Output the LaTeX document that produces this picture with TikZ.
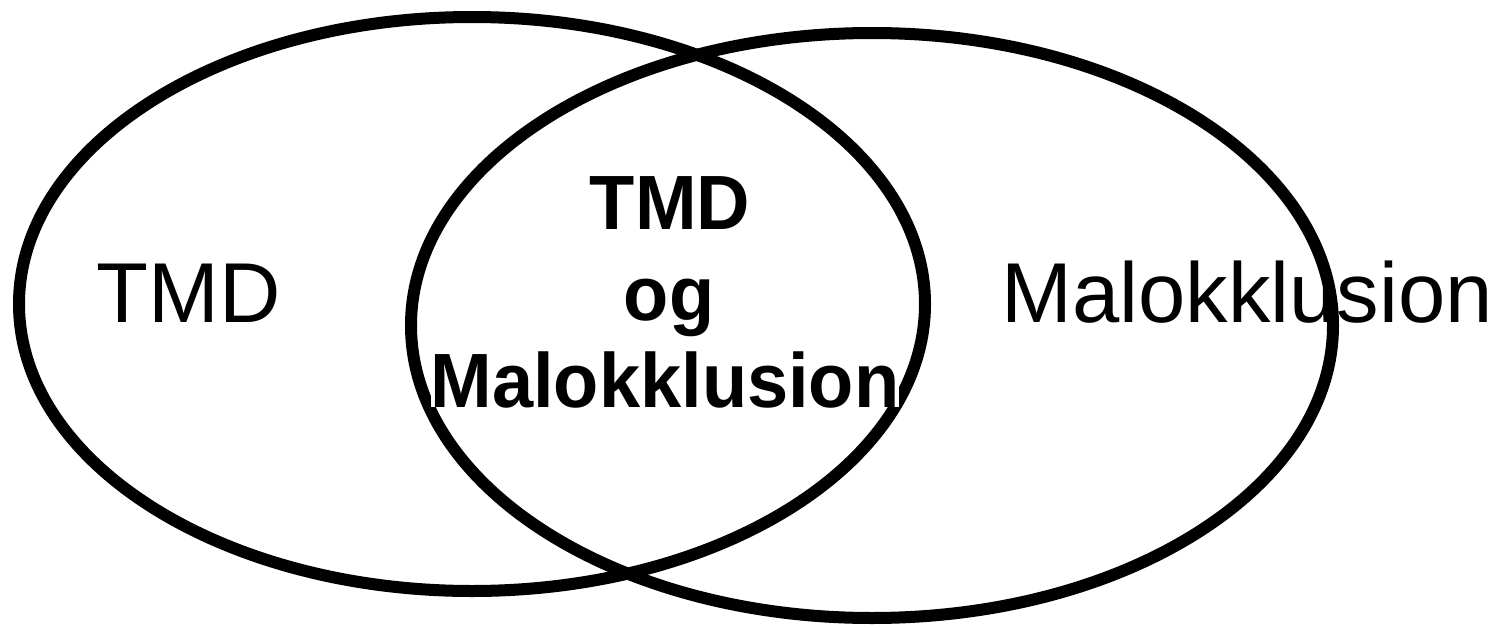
\documentclass[tikz,border=0pt]{standalone}
\usepackage{fontspec}
\setmainfont{Liberation Sans}
\begin{document}
\begin{tikzpicture}[x=1pt,y=-1pt,
  ring/.style={draw=black,line width=12pt},
  plainlabel/.style={inner sep=0pt,anchor=base,font=\fontsize{85}{90}\selectfont},
  boldlabel/.style={inner sep=0pt,anchor=base,font=\fontsize{74}{80}\selectfont\bfseries}]
\useasboundingbox (0,0) rectangle (1505,627);
\fill[white] (0,0) rectangle (1505,627);
\draw[ring] (472,304) ellipse [x radius=453pt, y radius=287pt];
\draw[ring] (872,325.5) ellipse [x radius=461pt, y radius=292.5pt];
\node[plainlabel] (tmd) at (189,322) {TMD};
\node[plainlabel] (malo) at (1247,322) {Malokklusion};
\node[boldlabel,yscale=1.04] (btmd) at (670,229) {TMD};
\node[boldlabel,yscale=1.04] (bog) at (669,320) {og};
\node[boldlabel,yscale=1.04,fill=white,text depth=0pt] (bmalo) at (665,407) {Malokklusion};
\end{tikzpicture}
\end{document}
